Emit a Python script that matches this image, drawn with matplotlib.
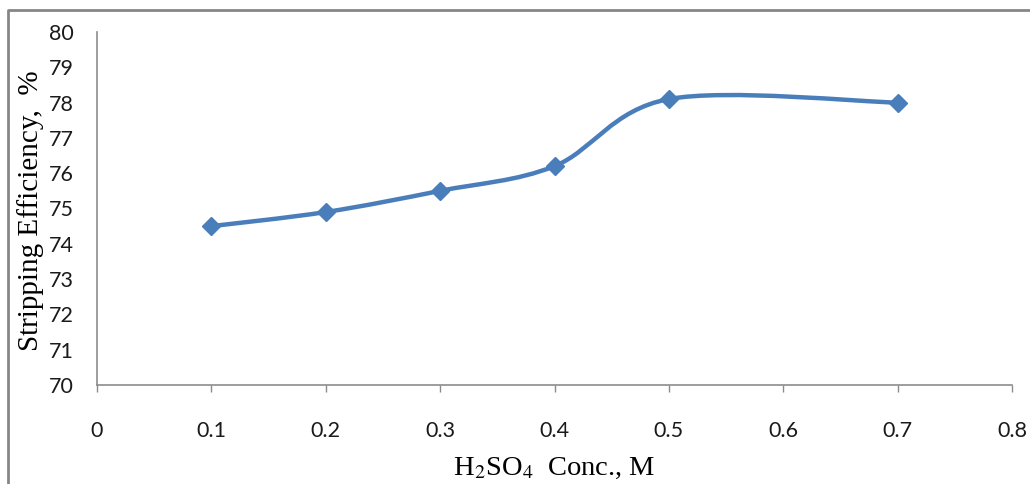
import numpy as np
import matplotlib
matplotlib.use('Agg')
import matplotlib.pyplot as plt
from matplotlib.path import Path
from matplotlib.patches import PathPatch
from matplotlib.lines import Line2D

plt.rcParams['mathtext.fontset'] = 'stix'

# 数据
conc = [0.1, 0.2, 0.3, 0.4, 0.5, 0.7]
efficiency = [74.5, 74.9, 75.5, 76.2, 78.1, 78.0]
x_ticks = [0, 0.1, 0.2, 0.3, 0.4, 0.5, 0.6, 0.7, 0.8]
y_ticks = list(range(70, 81))

LINE_COLOR = '#4A7EBB'
AXIS_COLOR = '#8C8C8C'


def smooth_path(xs, ys):
    """Excel风格的平滑曲线 (Bezier, 1/6 切线)"""
    pts = np.column_stack([xs, ys])
    n = len(pts)
    verts = [pts[0]]
    codes = [Path.MOVETO]
    for i in range(n - 1):
        p0 = pts[max(i - 1, 0)]
        p1 = pts[i]
        p2 = pts[i + 1]
        p3 = pts[min(i + 2, n - 1)]
        c1 = p1 + (p2 - p0) / 6.0
        c2 = p2 - (p3 - p1) / 6.0
        verts += [c1, c2, p2]
        codes += [Path.CURVE4] * 3
    return Path(verts, codes)


fig = plt.figure(figsize=(10.3, 4.84), dpi=100)
ax = fig.add_axes([97 / 1030, 1 - 385 / 484, (1012 - 97) / 1030, (385 - 32) / 484])

# 平滑曲线
patch = PathPatch(smooth_path(conc, efficiency), facecolor='none',
                  edgecolor=LINE_COLOR, linewidth=3.2, capstyle='round', zorder=2)
ax.add_patch(patch)
ax.plot(conc, efficiency, linestyle='none', marker='D', markersize=9,
        color=LINE_COLOR, zorder=3)

ax.set_xlim(0, 0.8)
ax.set_ylim(70, 80)
ax.set_xticks(x_ticks)
ax.set_xticklabels([str(t) if t != 0 else '0' for t in x_ticks])
ax.set_yticks(y_ticks)

for s in ['top', 'right']:
    ax.spines[s].set_visible(False)
for s in ['left', 'bottom']:
    ax.spines[s].set_color(AXIS_COLOR)
    ax.spines[s].set_linewidth(1.2)

ax.tick_params(axis='x', direction='out', length=5, width=1, color=AXIS_COLOR,
               pad=21, labelsize=15.5)
ax.tick_params(axis='y', length=0, pad=17, labelsize=15.5)
for lab in ax.get_xticklabels() + ax.get_yticklabels():
    lab.set_family('Lato')
    lab.set_color('#1a1a1a')

fig.text(554 / 1030, 1 - 475 / 484, r'H$_2$SO$_4$  Conc., M', ha='center', va='baseline',
         family='Liberation Serif', fontsize=20.5)
fig.text(31 / 1030, 1 - 211 / 484, 'Stripping Efficiency,  %', ha='center', va='center',
         rotation=90, family='Liberation Serif', fontsize=21)

# 外框 (左、上)
bx = 8 / 1030
by = 1 - 10 / 484
fig.add_artist(Line2D([bx, bx, 1], [0, by, by], transform=fig.transFigure,
                      color='#868686', linewidth=2))

plt.savefig('out.png', dpi=100)
